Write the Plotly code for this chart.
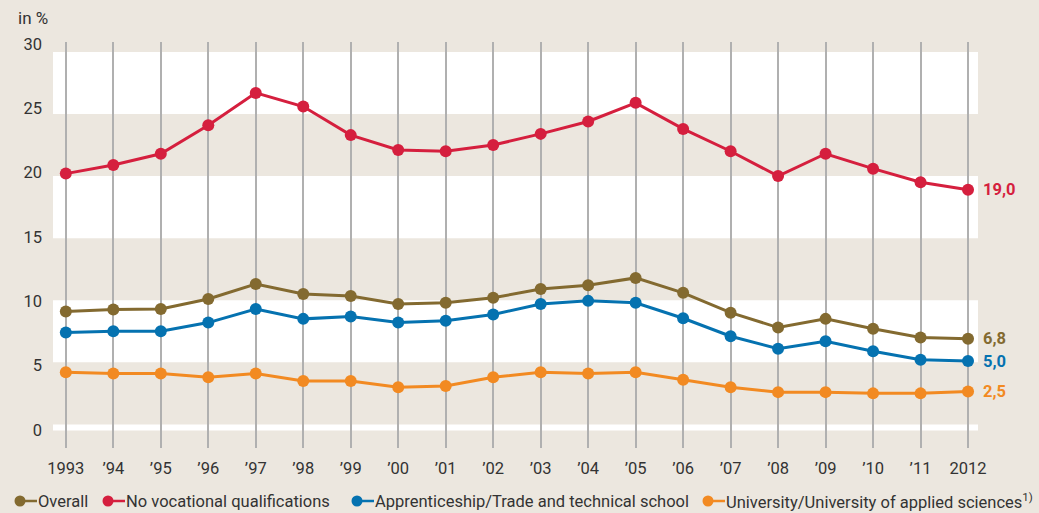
import plotly.graph_objects as go

years = list(range(1993, 2013))
year_labels = ["1993", "’94", "’95", "’96", "’97", "’98", "’99", "’00", "’01", "’02",
               "’03", "’04", "’05", "’06", "’07", "’08", "’09", "’10", "’11", "2012"]

overall = [9.1, 9.25, 9.3, 10.1, 11.3, 10.5, 10.35, 9.7, 9.8, 10.2,
           10.9, 11.2, 11.8, 10.6, 9.0, 7.8, 8.5, 7.7, 7.0, 6.9]
no_vocational = [20.2, 20.9, 21.8, 24.1, 26.7, 25.6, 23.3, 22.1, 22.0, 22.5,
                 23.4, 24.4, 25.9, 23.8, 22.0, 20.0, 21.8, 20.6, 19.5, 18.9]
apprenticeship = [7.4, 7.5, 7.5, 8.2, 9.3, 8.5, 8.7, 8.2, 8.35, 8.85,
                  9.7, 9.95, 9.8, 8.55, 7.1, 6.1, 6.7, 5.9, 5.2, 5.1]
university = [4.2, 4.1, 4.1, 3.8, 4.1, 3.5, 3.5, 3.0, 3.1, 3.8,
              4.2, 4.1, 4.2, 3.6, 3.0, 2.6, 2.6, 2.5, 2.5, 2.65]

series_names = ["Overall", "No vocational qualifications",
                "Apprenticeship/Trade and technical school",
                "University/University of applied sciences<sup>1)</sup>"]
series_values = [overall, no_vocational, apprenticeship, university]
series_colors = ["#836a30", "#d51f3e", "#0572b0", "#f28a22"]
end_labels = ["6,8", "19,0", "5,0", "2,5"]

y_ticks = [0, 5, 10, 15, 20, 25, 30]
bands = [(-0.5, 0), (5, 10), (15, 20), (25, 30)]

BG = "#ece7df"
FONT = "Roboto"
W, H = 1039, 513
ML, MR, MT, MB = 53, 61, 42, 65
PW, PH = W - ML - MR, H - MT - MB


def px_x(px):
    return (px - ML) / PW


def px_y(py):
    return (H - MB - py) / PH


fig = go.Figure()

for name, vals, color in zip(series_names, series_values, series_colors):
    fig.add_trace(go.Scatter(
        x=years, y=vals, name=name, mode="lines+markers",
        line=dict(color=color, width=3),
        marker=dict(color=color, size=12),
        cliponaxis=False, showlegend=False,
    ))

# axis only used for the (slightly offset) y tick labels
fig.add_trace(go.Scatter(x=[years[0]], y=[0], yaxis="y2", mode="markers",
                         marker=dict(opacity=0), showlegend=False, hoverinfo="skip"))

for y0, y1 in bands:
    fig.add_shape(type="rect", xref="x", yref="y", x0=1992.73, x1=2012.21,
                  y0=y0, y1=y1, fillcolor="white", line_width=0, layer="below")

for vals, color, lab in zip(series_values, series_colors, end_labels):
    fig.add_annotation(x=years[-1], y=vals[-1], text=f"<b>{lab}</b>", showarrow=False,
                       xanchor="left", yanchor="middle", xshift=13,
                       font=dict(family=FONT, size=16.5, color=color))

fig.add_annotation(x=px_x(16), y=px_y(18), xref="paper", yref="paper", text="in %",
                   showarrow=False, xanchor="left", yanchor="middle",
                   font=dict(family=FONT, size=17, color="#333333"))

# custom legend: dot followed by a short line, then the text
legend_dots = [20, 108, 357, 708]
r = 5.5
for cx, name, color in zip(legend_dots, series_names, series_colors):
    cy = 501
    fig.add_shape(type="line", xref="paper", yref="paper", x0=px_x(cx), x1=px_x(cx + 17),
                  y0=px_y(cy), y1=px_y(cy), line=dict(color=color, width=2.5))
    fig.add_shape(type="circle", xref="paper", yref="paper", x0=px_x(cx - r), x1=px_x(cx + r),
                  y0=px_y(cy - r), y1=px_y(cy + r), fillcolor=color, line_width=0)
    fig.add_annotation(x=px_x(cx + 16), y=px_y(cy), xref="paper", yref="paper", text=name,
                       showarrow=False, xanchor="left", yanchor="middle",
                       font=dict(family=FONT, size=16.5, color="#333333"))

fig.update_layout(
    width=W, height=H,
    margin=dict(l=ML, r=MR, t=MT, b=MB),
    paper_bgcolor=BG, plot_bgcolor=BG,
    font=dict(family=FONT, size=16.5, color="#333333"),
    xaxis=dict(range=[1992.73, 2012.21], tickvals=years, ticktext=year_labels,
               showgrid=True, gridcolor="#b0b0b0", gridwidth=1.5, zeroline=False,
               showline=False, ticks="", ticklabelstandoff=8),
    yaxis=dict(range=[-1.9, 30.8], showgrid=False, zeroline=False,
               showticklabels=False, ticks=""),
    yaxis2=dict(range=[-1.40, 30.16], overlaying="y", side="left", tickvals=y_ticks,
                showgrid=False, zeroline=False, ticks="", ticklabelstandoff=10),
    hovermode=False,
)

fig.write_html("out.html", config={"displayModeBar": False},
               post_script="document.body.style.margin='0';")
